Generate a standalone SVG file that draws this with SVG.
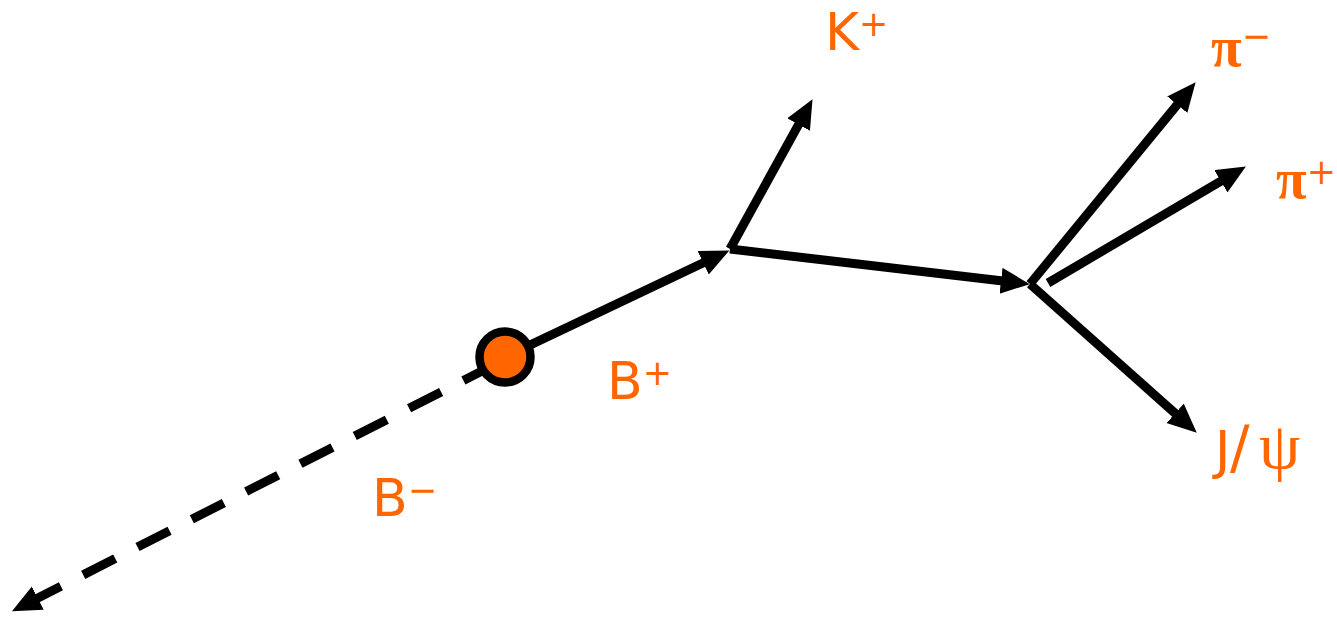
<svg xmlns="http://www.w3.org/2000/svg" width="1337" height="618" viewBox="0 0 1337 618">
<style>
.trk{stroke:#000;stroke-width:9;fill:none}
.arr{marker-end:url(#ah)}
.lbl{font-family:"DejaVu Sans",Verdana,sans-serif;fill:#FF6600;font-size:52px}
.sym{font-family:"Liberation Serif","DejaVu Serif",serif;fill:#FF6600;font-size:56px;font-weight:bold}
.psi{font-family:"Liberation Serif","DejaVu Serif",serif;font-size:66px;font-weight:normal}
.sup{font-family:"DejaVu Sans",Verdana,sans-serif;font-size:35px;font-weight:normal}
</style>
<defs>
<marker id="ah" markerUnits="userSpaceOnUse" markerWidth="32" markerHeight="28" refX="2" refY="13" orient="auto-start-reverse">
<path d="M0,0 L29,13 L0,26 z" fill="#000"/>
</marker>
</defs>
<rect width="1337" height="618" fill="#fff"/>
<g id="connectors">
<line class="trk" x1="36" y1="599" x2="482" y2="371" stroke-dasharray="36,25" stroke-dashoffset="8" marker-start="url(#ah)"/>
<line class="trk arr" x1="505" y1="357" x2="705" y2="262"/>
<line class="trk arr" x1="730" y1="249" x2="799.5" y2="122.8"/>
<line class="trk arr" x1="730" y1="249" x2="1003" y2="281"/>
<line class="trk arr" x1="1030" y1="284" x2="1178.5" y2="103.1"/>
<line class="trk arr" x1="1048" y1="283" x2="1222.6" y2="180.2"/>
<line class="trk arr" x1="1030" y1="284" x2="1176.6" y2="414.7"/>
</g>
<g id="vertex">
<circle cx="505" cy="357" r="25.5" fill="#FF6600" stroke="#000" stroke-width="8.5"/>
</g>
<g id="label-Kplus"><text class="lbl" x="825" y="50">K<tspan class="sup" dy="-14">+</tspan></text></g>
<g id="label-piminus"><text class="sym" x="1211" y="66">π<tspan class="sup" dy="-18">−</tspan></text></g>
<g id="label-piplus"><text class="sym" x="1276" y="198">π<tspan class="sup" dy="-14">+</tspan></text></g>
<g id="label-jpsi"><text class="lbl" y="468"><tspan x="1215">J</tspan><tspan x="1230" font-size="58">/</tspan><tspan class="psi" x="1259">ψ</tspan></text></g>
<g id="label-Bplus"><text class="lbl" x="607" y="399">B<tspan class="sup" dy="-14">+</tspan></text></g>
<g id="label-Bminus"><text class="lbl" x="372" y="516">B<tspan class="sup" dy="-14">−</tspan></text></g>
</svg>
